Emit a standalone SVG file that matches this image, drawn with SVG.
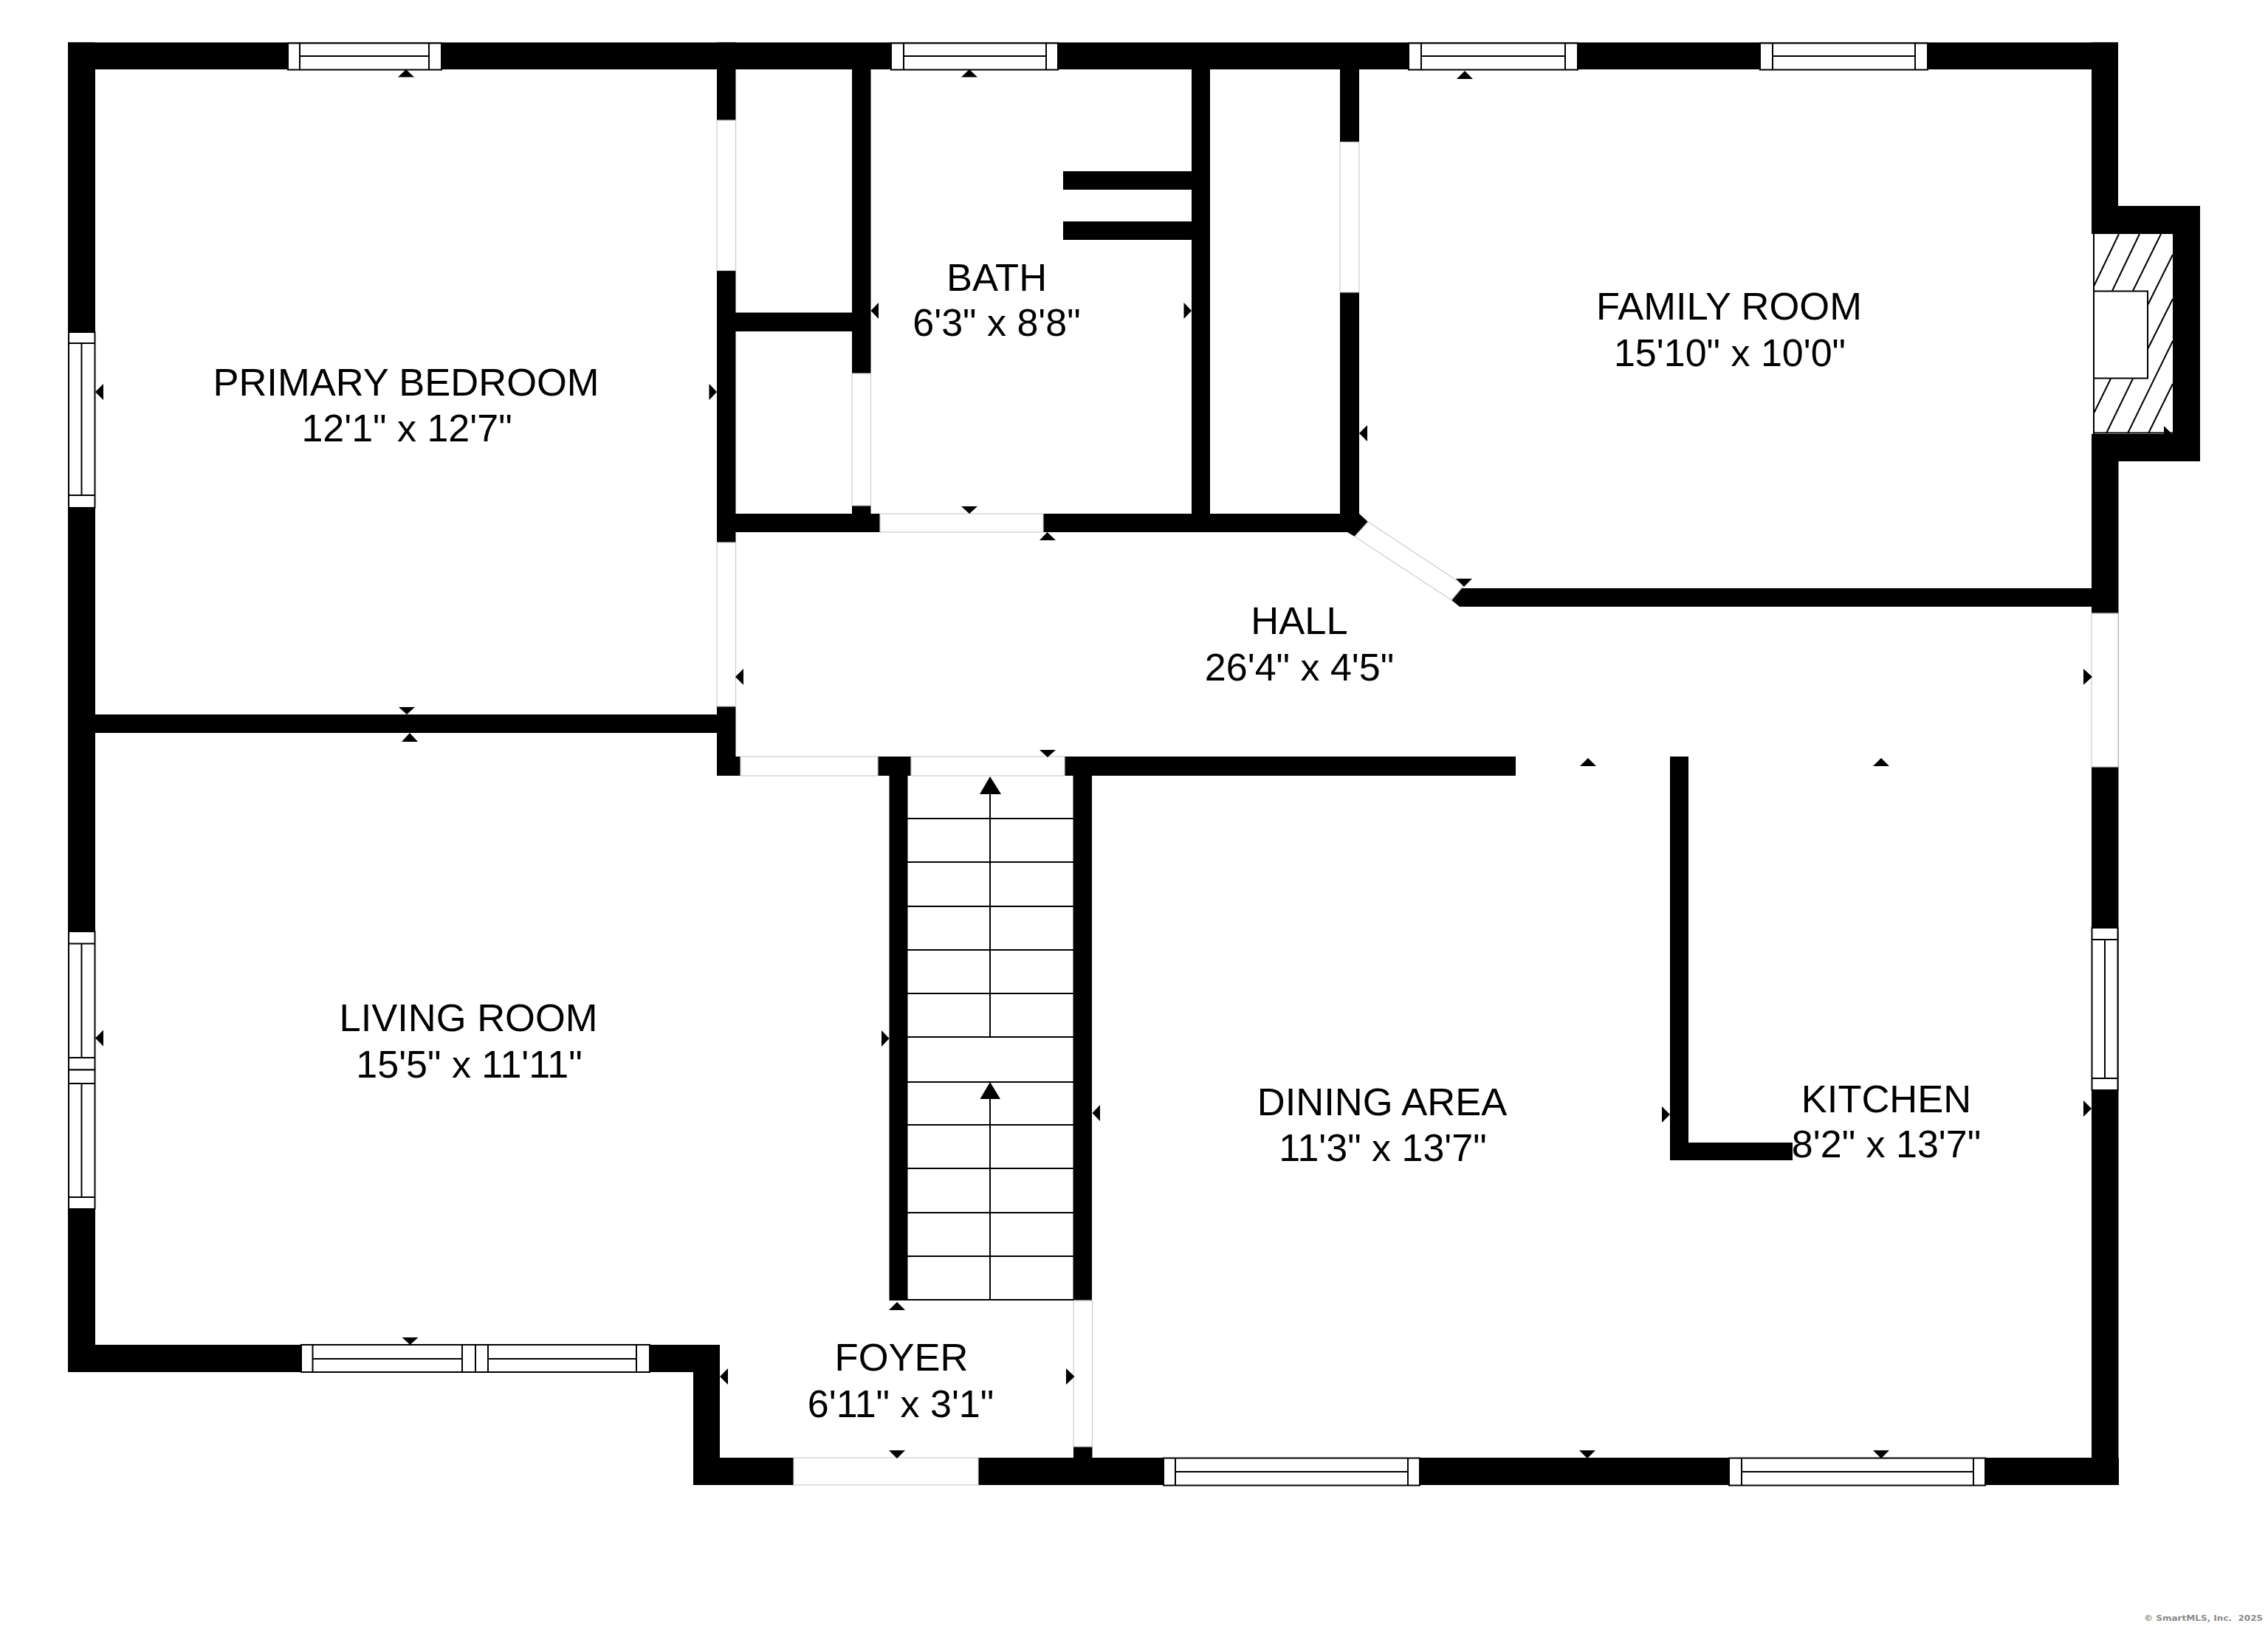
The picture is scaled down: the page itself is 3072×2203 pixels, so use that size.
<svg xmlns="http://www.w3.org/2000/svg" width="3072" height="2203" viewBox="0 0 3072 2203">
<style>
.w{fill:#000}
.d{fill:#fff;stroke:#ccc;stroke-width:1.2}
.f{fill:#fff;stroke:#000;stroke-width:2}
.l{fill:none;stroke:#000;stroke-width:2}
.s{fill:none;stroke:#000;stroke-width:2.200}
.t{fill:#000;stroke:none}
text{font-family:"Liberation Sans",Arial,sans-serif;font-size:52.500px;fill:#000;text-anchor:middle}
.m{font-size:52px}
.c{font-family:"DejaVu Sans",sans-serif;font-size:11px;font-weight:bold;fill:#8a8a8a;text-anchor:start}
</style>
<rect width="3072" height="2203" fill="#fff"/>
<g id="walls">
<rect class="w" x="92" y="57.5" width="2777" height="36.5"/>
<rect class="w" x="92" y="57.5" width="37" height="1801.5"/>
<rect class="w" x="92" y="1822" width="883" height="37"/>
<rect class="w" x="939" y="1822" width="36" height="190"/>
<rect class="w" x="939" y="1975" width="1931" height="37"/>
<rect class="w" x="2833" y="57.5" width="36" height="259.5"/>
<rect class="w" x="2833" y="279" width="147" height="38"/>
<rect class="w" x="2943" y="279" width="37" height="346"/>
<rect class="w" x="2833" y="588" width="147" height="37"/>
<rect class="w" x="2833" y="588" width="36.500" height="1424"/>
<rect class="w" x="129" y="968" width="842" height="25"/>
<rect class="w" x="971" y="57.500" width="25.500" height="993.500"/>
<rect class="w" x="996" y="423.500" width="158" height="25.500"/>
<rect class="w" x="1154" y="94" width="25.500" height="627"/>
<rect class="w" x="971" y="696" width="870" height="25"/>
<rect class="w" x="1440" y="232" width="174" height="25"/>
<rect class="w" x="1440" y="300" width="174" height="25"/>
<rect class="w" x="1614" y="94" width="25" height="627"/>
<rect class="w" x="1815" y="94" width="26" height="627"/>
<polygon class="w" points="1841,696 1853,707 1835,727 1825,721 1815,721 1815,696"/>
<polygon class="w" points="1983,793 1977,797 2833,797 2833,822 1977,822 1966,813"/>
<rect class="w" x="971" y="1025" width="1082" height="26"/>
<rect class="w" x="1204.500" y="1025" width="25" height="737"/>
<rect class="w" x="1453.500" y="1025" width="25.500" height="737"/>
<rect class="w" x="1454" y="1960" width="25.500" height="16"/>
<rect class="w" x="2262" y="1025" width="25" height="547"/>
<rect class="w" x="2262" y="1548" width="166" height="24"/>
</g>
<g id="door-openings">
<rect class="d" x="971" y="163" width="25.500" height="203.500"/>
<rect class="d" x="971" y="735" width="25.500" height="222"/>
<rect class="d" x="1154" y="506" width="25.500" height="179"/>
<rect class="d" x="1192" y="696" width="221" height="25"/>
<rect class="d" x="1815" y="192.500" width="26" height="203.500"/>
<polygon class="d" points="1853,707 1983,793 1966,813 1835,727"/>
<rect class="d" x="1003" y="1025" width="186" height="26"/>
<rect class="d" x="1234" y="1025" width="208" height="26"/>
<rect class="d" x="1454" y="1762" width="25.500" height="198"/>
<rect class="d" x="1075" y="1975" width="250" height="37"/>
<rect class="d" x="2833" y="831" width="36" height="208"/>
</g>
<g id="windows">
<g id="window-top-1"><rect class="f" x="390" y="58.500" width="208" height="36"/><path class="l" d="M406 58.500V94.500M581 58.500V94.500M406 76H581"/></g>
<g id="window-top-2"><rect class="f" x="1207" y="58.500" width="226" height="36"/><path class="l" d="M1224 58.500V94.500M1417 58.500V94.500M1224 76H1417"/></g>
<g id="window-top-3"><rect class="f" x="1908" y="58.500" width="229" height="36"/><path class="l" d="M1925 58.500V94.500M2120 58.500V94.500M1925 76H2120"/></g>
<g id="window-top-4"><rect class="f" x="2384" y="58.500" width="227" height="36"/><path class="l" d="M2401 58.500V94.500M2594 58.500V94.500M2401 76H2594"/></g>
<g id="window-left-1"><rect class="f" x="93" y="450" width="35.500" height="238"/><path class="l" d="M93 465H128.500M93 671H128.500M110.500 465V671"/></g>
<g id="window-left-2"><rect class="f" x="93" y="1262" width="35.500" height="187.500"/><path class="l" d="M93 1278.500H128.500M93 1433H128.500M110.500 1278.500V1433"/></g>
<g id="window-left-3"><rect class="f" x="93" y="1449.500" width="35.500" height="188.500"/><path class="l" d="M93 1468H128.500M93 1622H128.500M110.500 1468V1622"/></g>
<g id="window-bottom-1"><rect class="f" x="408" y="1822" width="236" height="37"/><path class="l" d="M423.500 1822V1859M626 1822V1859M423.500 1841H626"/></g>
<g id="window-bottom-2"><rect class="f" x="644" y="1822" width="236" height="37"/><path class="l" d="M661 1822V1859M862 1822V1859M661 1841H862"/></g>
<g id="window-bottom-3"><rect class="f" x="1576" y="1975.500" width="347" height="37"/><path class="l" d="M1592 1975.500V2012.500M1907 1975.500V2012.500M1592 1994H1907"/></g>
<g id="window-bottom-4"><rect class="f" x="2342" y="1975.500" width="347" height="37"/><path class="l" d="M2359 1975.500V2012.500M2673 1975.500V2012.500M2359 1994H2673"/></g>
<g id="window-right"><rect class="f" x="2833.500" y="1257" width="35" height="220"/><path class="l" d="M2833.500 1273H2868.500M2833.500 1461H2868.500M2851 1273V1461"/></g>
</g>
<g id="fireplace">
<path class="l" d="M2836 317V588M2836 586.500H2943"/>
<path class="l" d="M2836 388L2870 317M2861 394L2898 317M2889 394L2927 317M2908.700 414L2943 345M2909 473L2943 405M2836 560L2859 513M2853 587L2889 513M2882 587L2943 462M2910 587L2943 520"/>
<rect class="f" x="2836" y="394.500" width="73" height="118" stroke-width="3"/>
</g>
<g id="stairs">
<path class="s" d="M1229 1109H1454M1229 1168H1454M1229 1228H1454M1229 1287H1454M1229 1346H1454M1229 1405H1454M1229 1466H1454M1229 1524H1454M1229 1583H1454M1229 1643H1454M1229 1702H1454M1229 1761H1454"/>
<path class="l" d="M1341 1070V1405M1341 1480V1762"/>
<polygon class="t" points="1341,1052 1327,1076 1356,1076"/>
<polygon class="t" points="1341,1466 1327.500,1489 1355,1489"/>
</g>
<g id="dimension-ticks">
<polygon class="t" points="550,94 539,104.500 561,104.500"/>
<polygon class="t" points="1313,94 1302,104.500 1324,104.500"/>
<polygon class="t" points="1984,96 1973,107 1995,107"/>
<polygon class="t" points="129,531 140,520 140,542"/>
<polygon class="t" points="971,531 960.500,520 960.500,542"/>
<polygon class="t" points="1179.500,421 1190,410 1190,432"/>
<polygon class="t" points="1614,421 1603.500,410 1603.500,432"/>
<polygon class="t" points="1841,587 1852,576 1852,598"/>
<polygon class="t" points="1313,696 1302,686 1324,686"/>
<polygon class="t" points="1418.500,721 1408,732 1430,732"/>
<polygon class="t" points="1983,795 1972,784 1994,784"/>
<polygon class="t" points="551,968 540,958 562,958"/>
<polygon class="t" points="555,993 544,1005 566,1005"/>
<polygon class="t" points="996,917 1007,906 1007,928"/>
<polygon class="t" points="1419,1026 1408,1016 1430,1016"/>
<polygon class="t" points="2151,1027 2140,1038 2162,1038"/>
<polygon class="t" points="2548,1027 2537,1038 2559,1038"/>
<polygon class="t" points="2834,917 2822,906 2822,928"/>
<polygon class="t" points="129,1406.500 140,1395.500 140,1417.500"/>
<polygon class="t" points="1204.500,1407 1194,1396 1194,1418"/>
<polygon class="t" points="1479.500,1508 1490,1497 1490,1519"/>
<polygon class="t" points="2262,1510 2251,1499 2251,1521"/>
<polygon class="t" points="2833,1502 2822,1491 2822,1513"/>
<polygon class="t" points="555.500,1822 544.500,1812 566.500,1812"/>
<polygon class="t" points="1215,1764 1204,1775 1226,1775"/>
<polygon class="t" points="975,1865 986,1854 986,1876"/>
<polygon class="t" points="1455.500,1865 1444,1854 1444,1876"/>
<polygon class="t" points="1215,1976 1204,1965 1226,1965"/>
<polygon class="t" points="2150,1976 2139,1965 2161,1965"/>
<polygon class="t" points="2548,1976 2537,1965 2559,1965"/>
<polygon class="t" points="2942,588 2931,577 2931,588"/>
</g>
<g id="room-primary-bedroom"><text x="550" y="536">PRIMARY BEDROOM</text><text class="m" x="551" y="598">12'1" x 12'7"</text></g>
<g id="room-bath"><text x="1350" y="393.500">BATH</text><text class="m" x="1350" y="455">6'3" x 8'8"</text></g>
<g id="room-family-room"><text x="2342" y="433">FAMILY ROOM</text><text class="m" x="2343" y="496">15'10" x 10'0"</text></g>
<g id="room-hall"><text x="1760" y="859">HALL</text><text class="m" x="1760" y="922">26'4" x 4'5"</text></g>
<g id="room-living-room"><text x="634.500" y="1397">LIVING ROOM</text><text class="m" x="635.500" y="1460">15'5" x 11'11"</text></g>
<g id="room-dining-area"><text x="1872" y="1511">DINING AREA</text><text class="m" x="1873" y="1573">11'3" x 13'7"</text></g>
<g id="room-kitchen"><text x="2555" y="1507">KITCHEN</text><text class="m" x="2555" y="1568">8'2" x 13'7"</text></g>
<g id="room-foyer"><text x="1221" y="1857">FOYER</text><text class="m" x="1220" y="1920">6'11" x 3'1"</text></g>
<text class="c" x="2904" y="2196" textLength="161" lengthAdjust="spacingAndGlyphs" xml:space="preserve">© SmartMLS, Inc.  2025</text>
</svg>
